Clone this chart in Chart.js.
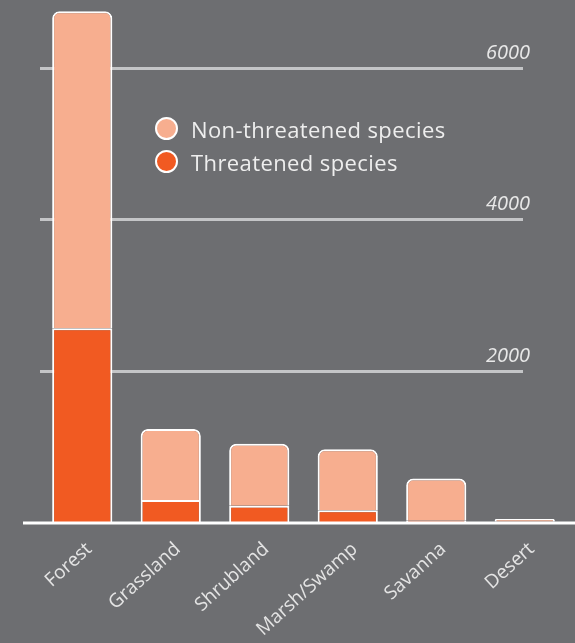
<!DOCTYPE html>
<html>
<head>
<meta charset="utf-8">
<script src="https://cdn.jsdelivr.net/npm/chart.js@4/dist/chart.umd.min.js"></script>
<style>
    html, body { margin: 0; padding: 0; background: #6d6e71; }
    #wrap { position: relative; width: 575px; height: 643px; }
    #legend { position: absolute; left: 155px; top: 112px; font-family: "Open Sans", sans-serif; font-size: 22px; letter-spacing: 0.4px; color: #eeeeee; }
    .item { display: flex; align-items: center; height: 33px; }
    .dot { width: 19px; height: 19px; border-radius: 50%; border: 2px solid #fff; margin-right: 13px; box-sizing: content-box; }
</style>
</head>
<body>
<div id="wrap">
    <canvas id="chart" width="575" height="643"></canvas>
    <div id="legend">
        <div class="item"><span class="dot" style="background:#f7ae8f"></span>Non-threatened species</div>
        <div class="item"><span class="dot" style="background:#f15a22"></span>Threatened species</div>
    </div>
</div>
<script>
// Data
const habitats = ['Forest', 'Grassland', 'Shrubland', 'Marsh/Swamp', 'Savanna', 'Desert'];
const threatened = [2560, 290, 215, 155, 15, 5];
const nonThreatened = [4190, 940, 820, 805, 560, 35];
const yTicks = [2000, 4000, 6000];

const LIGHT = '#f7ae8f';
const DARK = '#f15a22';

// Gridlines + tick labels, drawn behind the bars
const gridPlugin = {
    id: 'customGrid',
    beforeDatasetsDraw(chart) {
        const ctx = chart.ctx;
        const y = chart.scales.y;
        ctx.save();
        ctx.strokeStyle = '#c4c5c7';
        ctx.lineWidth = 3;
        ctx.fillStyle = '#e8e8e8';
        ctx.font = 'italic 20px "Open Sans", sans-serif';
        ctx.textAlign = 'right';
        ctx.textBaseline = 'alphabetic';
        yTicks.forEach(v => {
            const py = Math.round(y.getPixelForValue(v)) + 0.5;
            ctx.beginPath();
            ctx.moveTo(40, py);
            ctx.lineTo(523, py);
            ctx.stroke();
            ctx.fillText(String(v), 530, py - 10);
        });
        ctx.restore();
    },
    afterDatasetsDraw(chart) {
        const ctx = chart.ctx;
        const py = chart.scales.y.getPixelForValue(0);
        ctx.save();
        ctx.strokeStyle = '#ffffff';
        ctx.lineWidth = 3;
        ctx.beginPath();
        ctx.moveTo(23, py + 1);
        ctx.lineTo(575, py + 1);
        ctx.stroke();
        ctx.restore();
    }
};

new Chart(document.getElementById('chart').getContext('2d'), {
    type: 'bar',
    data: {
        labels: habitats,
        datasets: [{
            label: 'Threatened species',
            data: threatened,
            backgroundColor: DARK,
            borderColor: '#ffffff',
            borderWidth: 2,
            borderSkipped: 'start'
        }, {
            label: 'Non-threatened species',
            data: nonThreatened,
            backgroundColor: LIGHT,
            borderColor: '#ffffff',
            borderWidth: 2,
            borderSkipped: 'start',
            borderRadius: { topLeft: 7, topRight: 7, bottomLeft: 0, bottomRight: 0 }
        }]
    },
    options: {
        responsive: false,
        animation: false,
        events: [],
        layout: { padding: { left: 38, right: 6, top: 0, bottom: 0 } },
        datasets: { bar: { barPercentage: 0.68, categoryPercentage: 1 } },
        plugins: { legend: { display: false }, tooltip: { enabled: false } },
        scales: {
            x: {
                stacked: true,
                grid: { display: false },
                border: { display: false },
                ticks: {
                    color: '#e4e4e4',
                    font: { family: '"Open Sans", sans-serif', size: 19 },
                    maxRotation: 42,
                    minRotation: 42,
                    padding: 8,
                    labelOffset: 7
                },
                afterFit(scale) { scale.height = 121; }
            },
            y: {
                stacked: true,
                display: false,
                min: 0,
                max: 6900
            }
        }
    },
    plugins: [gridPlugin]
});
</script>
</body>
</html>
